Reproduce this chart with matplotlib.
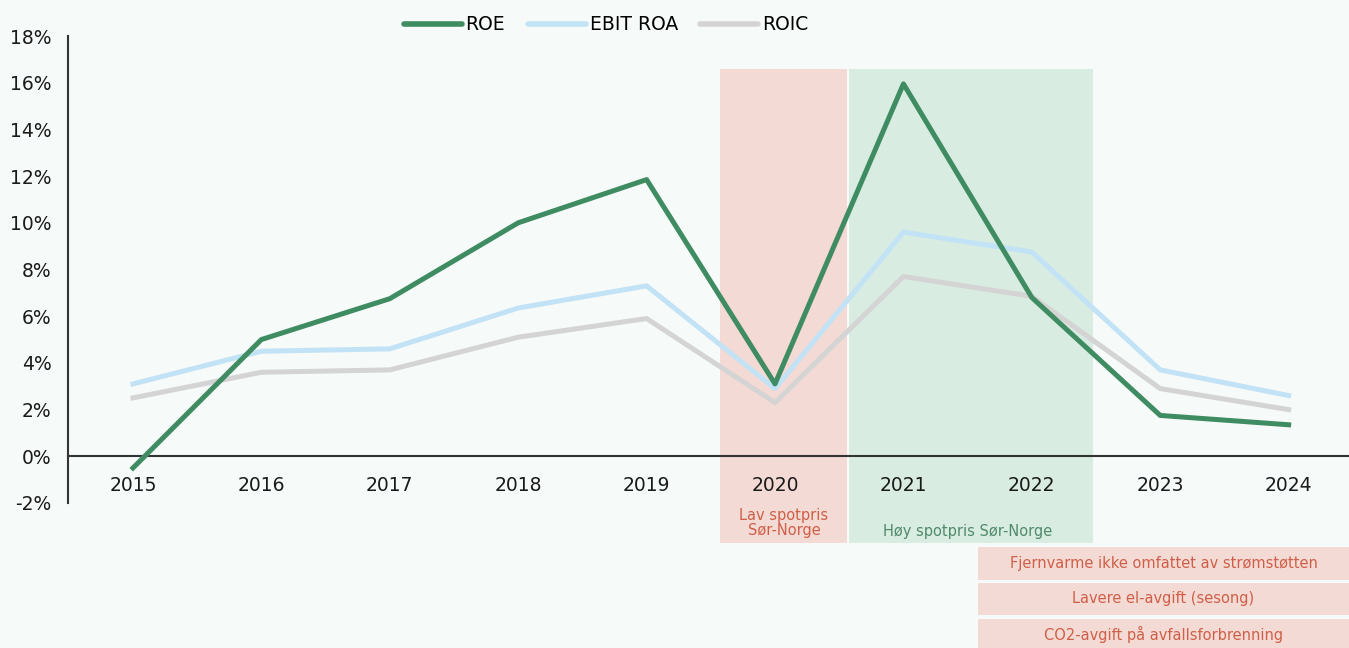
import matplotlib
matplotlib.use("Agg")
from matplotlib import pyplot as plt
from matplotlib.patches import Rectangle

plt.rcParams["font.family"] = ["DejaVu Sans"]

years = [2015, 2016, 2017, 2018, 2019, 2020, 2021, 2022, 2023, 2024]
roe = [-0.5, 5.0, 6.75, 10.0, 11.85, 3.1, 15.95, 6.8, 1.75, 1.35]
ebit_roa = [3.1, 4.5, 4.6, 6.35, 7.3, 2.9, 9.6, 8.75, 3.7, 2.6]
roic = [2.5, 3.6, 3.7, 5.1, 5.9, 2.3, 7.7, 6.85, 2.9, 2.0]

yticks = list(range(-2, 19, 2))
notes = ["Fjernvarme ikke omfattet av strømstøtten",
         "Lavere el-avgift (sesong)",
         "CO2-avgift på avfallsforbrenning"]

bg = "#F6FAF9"
c_roe = "#3F8C62"
c_ebit = "#C2E2F6"
c_roic = "#D4D4D4"
c_red = "#F4DAD4"
c_green = "#D9ECE1"
t_red = "#CF5F48"
t_green = "#4F8A6A"

fig = plt.figure(figsize=(13.49, 6.48), dpi=100, facecolor=bg)
ax = fig.add_axes([68 / 1349, 1 - 503 / 648, 1 - 68 / 1349, (503 - 36) / 648])
ax.set_facecolor(bg)

# shaded periods (extend below the axes)
ax.add_patch(Rectangle((2019.57, -3.7), 0.99, 20.3, facecolor=c_red,
                       edgecolor="none", clip_on=False, zorder=0))
ax.add_patch(Rectangle((2020.58, -3.7), 1.9, 20.3, facecolor=c_green,
                       edgecolor="none", clip_on=False, zorder=0))

ax.plot(years, ebit_roa, color=c_ebit, lw=3.6, label="EBIT ROA", zorder=3)
ax.plot(years, roic, color=c_roic, lw=3.6, label="ROIC", zorder=3)
ax.plot(years, roe, color=c_roe, lw=3.6, label="ROE", zorder=4)

ax.set_xlim(2014.494, 2024.47)
ax.set_ylim(-2, 18)
ax.set_yticks(yticks)
ax.set_yticklabels([f"{v}%" for v in yticks])
ax.set_xticks(years)
ax.set_xticklabels([str(y) for y in years])

for s in ["top", "right"]:
    ax.spines[s].set_visible(False)
ax.spines["bottom"].set_position(("data", 0))
ax.spines["bottom"].set_color("#333333")
ax.spines["left"].set_color("#333333")
ax.spines["bottom"].set_linewidth(1.5)
ax.spines["left"].set_linewidth(1.5)
ax.tick_params(axis="both", length=0, labelsize=13.5, colors="#1a1a1a")
ax.tick_params(axis="x", pad=14)
ax.tick_params(axis="y", pad=12)

ax.text(2020.07, -2.85, "Lav spotpris\nSør-Norge", ha="center", va="center",
        fontsize=10.5, color=t_red, linespacing=1.0)
ax.text(2021.5, -3.2, "Høy spotpris Sør-Norge", ha="center", va="center",
        fontsize=10.5, color=t_green)

h, l = ax.get_legend_handles_labels()
order = [2, 0, 1]
leg = fig.legend([h[i] for i in order], [l[i] for i in order], loc="center",
                 bbox_to_anchor=(606 / 1349, 1 - 25 / 648), ncol=3, frameon=False,
                 fontsize=13.5, handlelength=3.1, handletextpad=0.2, columnspacing=1.2)
for line in leg.get_lines():
    line.set_linewidth(4)
    line.set_solid_capstyle("round")

# note boxes bottom right
boxes = [(547, 580), (583, 615), (619, 650)]
for (top, bot), txt in zip(boxes, notes):
    fig.patches.append(Rectangle((978 / 1349, 1 - bot / 648), 1 - 978 / 1349,
                                 (bot - top) / 648, transform=fig.transFigure,
                                 facecolor=c_red, edgecolor="none"))
    fig.text((978 + 1349) / 2 / 1349, 1 - (top + bot) / 2 / 648, txt,
             ha="center", va="center", fontsize=10.5, color=t_red)

fig.savefig("out.png", dpi=100, facecolor=bg)
